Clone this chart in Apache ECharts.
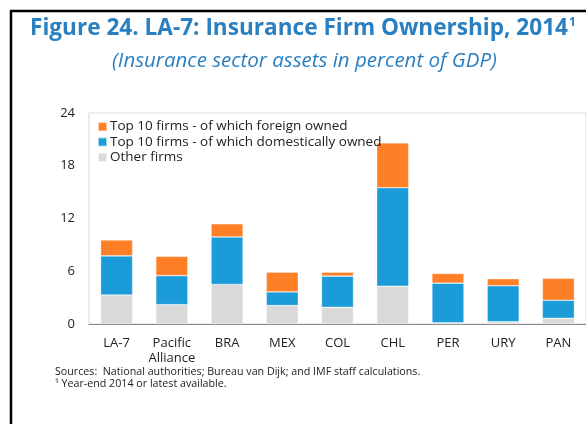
<!DOCTYPE html>
<html lang="en">
  <head>
    <meta charset="UTF-8" />
    <title>Insurance Firm Ownership, 2014</title>
    <style>
      html, body {
        margin: 0;
        padding: 0;
        width: 100%;
        height: 100%;
        overflow: hidden;
        background: #fff;
      }
      #chart {
        width: 586px;
        height: 424px;
      }
    </style>
    <script src="https://cdn.jsdelivr.net/npm/echarts@6/dist/echarts.min.js"></script>
  </head>
  <body>
    <div id="chart"></div>
    <script>
      // categories and stacked values (percent of GDP)
      const countries = ["LA-7", "Pacific\nAlliance", "BRA", "MEX", "COL", "CHL", "PER", "URY", "PAN"];
      const otherFirms = [3.3, 2.2, 4.5, 2.1, 1.9, 4.3, 0.15, 0.25, 0.65];
      const top10Domestic = [4.45, 3.3, 5.4, 1.55, 3.55, 11.2, 4.5, 4.1, 2.05];
      const top10Foreign = [1.8, 2.2, 1.5, 2.25, 0.45, 5.1, 1.1, 0.8, 2.5];
      const yTicks = [0, 6, 12, 18, 24];

      const font = "'Open Sans', sans-serif";
      const chart = echarts.init(document.getElementById("chart"), null, { renderer: "canvas" });

      const barStyle = { borderColor: "rgba(255,255,255,0.6)", borderWidth: 0.6 };

      const option = {
        animation: false,
        textStyle: { fontFamily: font },
        graphic: [
          // black frame (top + left)
          { type: "line", shape: { x1: 10, y1: 11, x2: 586, y2: 11 }, style: { stroke: "#000", lineWidth: 2.5 } },
          { type: "line", shape: { x1: 11, y1: 10, x2: 11, y2: 424 }, style: { stroke: "#000", lineWidth: 2.5 } },
          {
            type: "text",
            left: 30,
            top: 17,
            style: {
              text: "{t|Figure 24. LA-7: Insurance Firm Ownership, 2014}{s|1}",
              rich: {
                t: { fontSize: 22.6, fontWeight: "bold", fill: "#2a7fc0", fontFamily: font },
                s: { fontSize: 12, fontWeight: "bold", fill: "#2a7fc0", fontFamily: font, verticalAlign: "top", padding: [0, 0, 12, 1] }
              }
            }
          },
          {
            type: "text",
            left: 112,
            top: 51,
            style: {
              text: "(Insurance sector assets in percent of GDP)",
              font: "italic 20.5px " + font,
              fill: "#2a7fc0"
            }
          },
          {
            type: "text",
            left: 55,
            top: 366,
            style: {
              text: "Sources:  National authorities; Bureau van Dijk; and IMF staff calculations.",
              font: "10.7px " + font,
              fill: "#222"
            }
          },
          {
            type: "text",
            left: 55,
            top: 378,
            style: {
              text: "\u00b9 Year-end 2014 or latest available.",
              font: "10.7px " + font,
              fill: "#222"
            }
          }
        ],
        legend: {
          left: 92,
          top: 114,
          orient: "vertical",
          itemWidth: 9,
          itemHeight: 9,
          itemGap: 0,
          icon: "rect",
          textStyle: { fontSize: 13.5, lineHeight: 15.3, color: "#222", fontFamily: font, padding: [0, 0, 0, -2] },
          data: [
            "Top 10 firms - of which foreign owned",
            "Top 10 firms - of which domestically owned",
            "Other firms"
          ]
        },
        grid: {
          left: 89,
          right: 0,
          top: 113,
          bottom: 100,
          show: true,
          borderColor: "#d9d9d9",
          borderWidth: 1
        },
        xAxis: {
          type: "category",
          data: countries,
          axisLine: { lineStyle: { color: "#888", width: 1 } },
          axisTick: { show: false },
          axisLabel: { fontSize: 13, color: "#222", margin: 12, lineHeight: 15, interval: 0 }
        },
        yAxis: {
          type: "value",
          min: yTicks[0],
          max: yTicks[yTicks.length - 1],
          interval: 6,
          axisLine: { show: false },
          axisTick: { show: false },
          splitLine: { show: false },
          axisLabel: { fontSize: 13, color: "#222", margin: 14 }
        },
        series: [
          {
            name: "Other firms",
            type: "bar",
            stack: "total",
            barWidth: "58%",
            itemStyle: Object.assign({ color: "#d9d9d9" }, barStyle),
            data: otherFirms
          },
          {
            name: "Top 10 firms - of which domestically owned",
            type: "bar",
            stack: "total",
            itemStyle: Object.assign({ color: "#1b9bd7" }, barStyle),
            data: top10Domestic
          },
          {
            name: "Top 10 firms - of which foreign owned",
            type: "bar",
            stack: "total",
            itemStyle: Object.assign({ color: "#ff7f27" }, barStyle),
            data: top10Foreign
          }
        ]
      };

      chart.setOption(option);
    </script>
  </body>
</html>
